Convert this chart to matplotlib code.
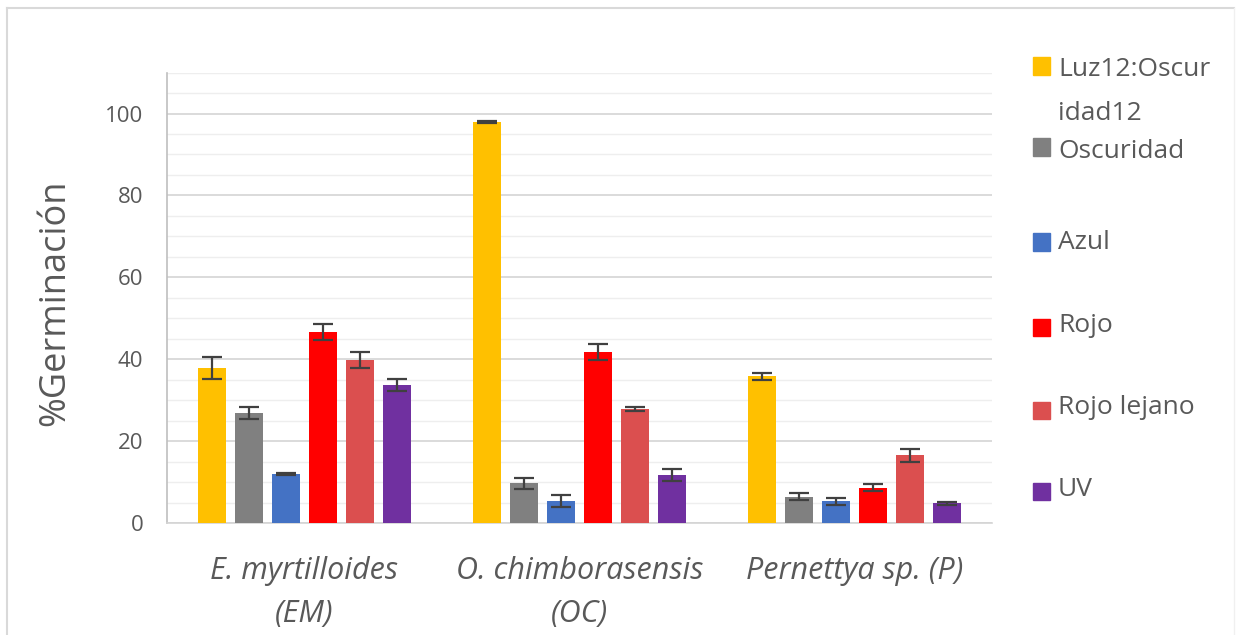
import matplotlib
matplotlib.use("Agg")
import matplotlib.pyplot as plt
import numpy as np
from matplotlib.patches import Rectangle
from matplotlib.lines import Line2D

# Species groups (x-axis categories)
species = ["E. myrtilloides\n(EM)", "O. chimborasensis\n(OC)", "Pernettya sp. (P)"]

# Light treatments (series)
treatments = ["Luz12:Oscur\nidad12", "Oscuridad", "Azul", "Rojo", "Rojo lejano", "UV"]
colors = ["#FFC000", "#808080", "#4472C4", "#FF0000", "#DB4F4F", "#7030A0"]

# Germination percentage per treatment, ordered EM, OC, P
luz_oscuridad = [37.8, 98.0, 35.8]
oscuridad = [26.8, 9.7, 6.4]
azul = [12.0, 5.4, 5.3]
rojo = [46.6, 41.8, 8.6]
rojo_lejano = [39.8, 27.8, 16.5]
uv = [33.7, 11.7, 4.8]

# Standard errors, same order
err_luz_oscuridad = [2.7, 0.3, 0.9]
err_oscuridad = [1.5, 1.4, 0.9]
err_azul = [0.3, 1.4, 0.9]
err_rojo = [1.9, 1.9, 0.9]
err_rojo_lejano = [1.9, 0.5, 1.6]
err_uv = [1.4, 1.4, 0.4]

values = [luz_oscuridad, oscuridad, azul, rojo, rojo_lejano, uv]
errors = [err_luz_oscuridad, err_oscuridad, err_azul, err_rojo, err_rojo_lejano, err_uv]

text_color = "#595959"
W, H = 1241, 635
fig = plt.figure(figsize=(W / 100, H / 100), dpi=100)
fig.patch.set_facecolor("white")

ax = fig.add_axes([167 / W, 1 - 523 / H, (992 - 167) / W, (523 - 72.6) / H])

x = np.arange(len(species))
step = 0.1345
width = 0.105
offsets = (np.arange(len(treatments)) - (len(treatments) - 1) / 2) * step

for i, (vals, errs, col) in enumerate(zip(values, errors, colors)):
    ax.bar(x + offsets[i], vals, width=width, color=col, zorder=3)
    ax.errorbar(x + offsets[i], vals, yerr=errs, fmt="none", ecolor="#404040",
                elinewidth=1.6, capsize=7, capthick=1.6, zorder=4)

ax.set_xlim(-0.5, 2.5)
ax.set_ylim(0, 110)
ax.set_yticks(np.arange(0, 101, 20))
ax.set_yticks(np.arange(0, 111, 5), minor=True)
ax.grid(axis="y", which="major", color="#d4d4d4", linewidth=1.2, zorder=0)
ax.grid(axis="y", which="minor", color="#eeeeee", linewidth=1.0, zorder=0)
ax.set_axisbelow(True)

for side in ["top", "right"]:
    ax.spines[side].set_visible(False)
ax.spines["left"].set_color("#bfbfbf")
ax.spines["left"].set_linewidth(1.2)
ax.spines["bottom"].set_color("#d4d4d4")
ax.spines["bottom"].set_linewidth(1.2)

ax.tick_params(axis="both", which="both", length=0)
ax.tick_params(axis="y", pad=17, labelsize=16, labelcolor=text_color)
ax.set_yticklabels([str(v) for v in range(0, 101, 20)], family="Open Sans")

ax.set_xticks(x)
ax.set_xticklabels(species, family="Open Sans", style="italic", fontsize=22,
                   color=text_color, linespacing=1.55)
ax.tick_params(axis="x", pad=24)

fig.text(55 / W, 1 - 303 / H, "%Germinación", rotation=90, ha="center", va="center",
         fontsize=26, color=text_color, family="Open Sans")

# Legend drawn on the right
legend_square_y = [66, 147, 242, 327, 410, 491]
legend_text_y = [70, 152, 242, 325, 408, 490]
for lab, col, sy, ty in zip(treatments, colors, legend_square_y, legend_text_y):
    fig.add_artist(Rectangle((1033 / W, 1 - (sy + 8.5) / H), 17 / W, 17 / H,
                             transform=fig.transFigure, color=col))
    first, *rest = lab.split("\n")
    fig.text(1058 / W, 1 - ty / H, first, ha="left", va="center", fontsize=19,
             color=text_color, family="Open Sans")
    for k, extra in enumerate(rest):
        fig.text(1058 / W, 1 - (ty + 43 * (k + 1)) / H, extra, ha="left", va="center",
                 fontsize=19, color=text_color, family="Open Sans")

# Light outer frame
fig.add_artist(Line2D([7 / W, 1234 / W], [1 - 8 / H, 1 - 8 / H], transform=fig.transFigure,
                      color="#d9d9d9", linewidth=1.5))
fig.add_artist(Line2D([7 / W, 7 / W], [1 - 8 / H, 0], transform=fig.transFigure,
                      color="#d9d9d9", linewidth=1.5))
fig.add_artist(Line2D([1234 / W, 1234 / W], [1 - 8 / H, 0], transform=fig.transFigure,
                      color="#f0f0f0", linewidth=1.0))

fig.savefig("out.png", dpi=100, facecolor="white")
